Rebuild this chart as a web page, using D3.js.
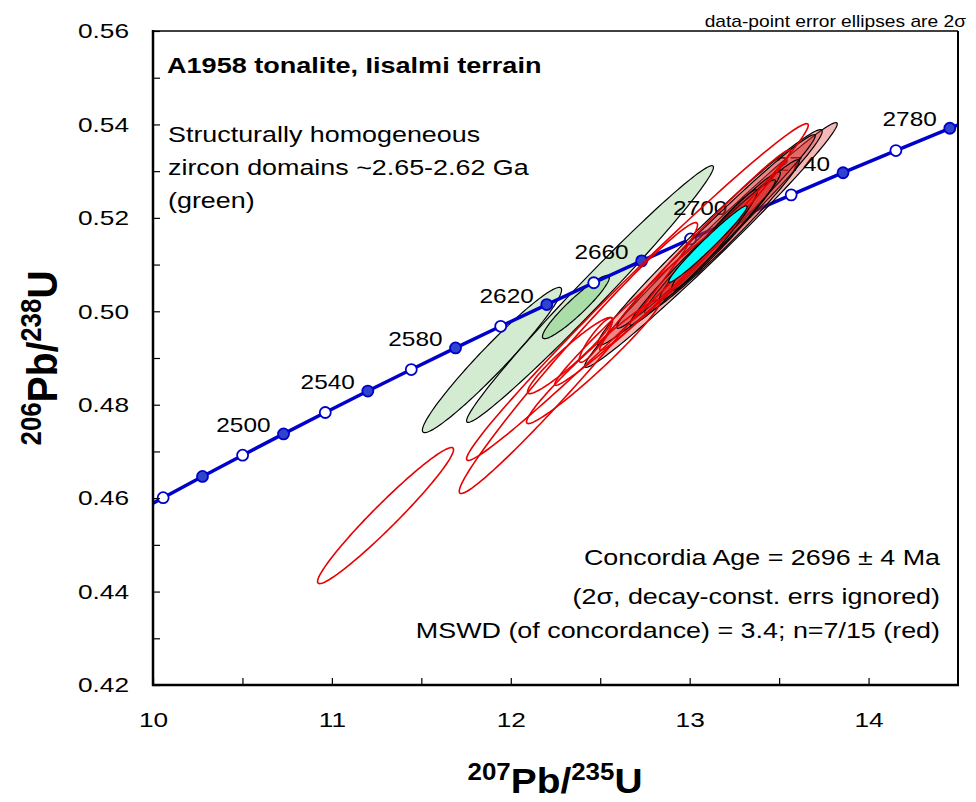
<!DOCTYPE html>
<html><head><meta charset="utf-8">
<script src="https://cdn.jsdelivr.net/npm/d3@7"></script>
<style>body{margin:0;background:#fff}svg{display:block}text{font-family:"Liberation Sans",Arial,sans-serif;fill:#000}</style>
</head><body>
<script>
// ---- Data ----
// Concordia curve points (every 20 Ma)
const concAges = [2420,2440,2460,2480,2500,2520,2540,2560,2580,2600,2620,2640,2660,2680,2700,2720,2740,2760,2780,2800];
const concX = [9.8410,10.0567,10.2766,10.5009,10.7297,10.9630,11.2010,11.4437,11.6913,11.9437,12.2012,12.4638,12.7316,13.0048,13.2834,13.5675,13.8573,14.1528,14.4542,14.7617];
const concY = [0.45557,0.46010,0.46464,0.46919,0.47375,0.47833,0.48293,0.48753,0.49216,0.49679,0.50144,0.50611,0.51079,0.51548,0.52019,0.52492,0.52966,0.53441,0.53918,0.54396];
const concFilledAges = [2460,2500,2540,2580,2620,2660,2700,2740,2780];
const concLabelAges = [2500,2540,2580,2620,2660,2700,2740,2780];

// Green ellipses (207/235, 2s err, 206/238, 2s err, rho)
const greenX    = [11.895, 12.443, 12.364];
const greenXErr = [0.389, 0.690, 0.187];
const greenY    = [0.48957, 0.50369, 0.50091];
const greenYErr = [0.01554, 0.02748, 0.00677];
const greenRho  = [0.966, 0.9875, 0.934];

// Red concordant (filled) ellipses
const redX    = [13.119, 13.113, 13.147, 13.181, 13.169, 13.072, 13.139];
const redXErr = [0.706, 0.628, 0.555, 0.432, 0.338, 0.407, 0.240];
const redY    = [0.51419, 0.51579, 0.51708, 0.51601, 0.51611, 0.51258, 0.51526];
const redYErr = [0.02620, 0.02310, 0.02073, 0.01644, 0.01377, 0.01558, 0.01076];
const redRho  = [0.989, 0.984, 0.988, 0.983, 0.977, 0.9847, 0.970];

// Red excluded (outline) ellipses
const exX    = [11.300, 12.708, 12.378, 12.462, 12.331, 12.476, 12.764, 13.030];
const exXErr = [0.380, 0.955, 0.666, 0.374, 0.237, 0.0935, 0.518, 0.533];
const exY    = [0.45627, 0.50412, 0.48999, 0.48924, 0.49053, 0.49385, 0.50241, 0.51311];
const exYErr = [0.01456, 0.03605, 0.02899, 0.01328, 0.00816, 0.00477, 0.01826, 0.02146];
const exRho  = [0.9689, 0.9903, 0.9836, 0.972, 0.950, 0.899, 0.988, 0.9895];

// Concordia-age ellipse
const ageX = [13.102], ageXErr = [0.219], ageY = [0.5144], ageYErr = [0.00818], ageRho = [0.979];

// Axes ticks
const xMajor = [10,11,12,13,14];
const xMinor = [10.5,11.5,12.5,13.5];
const yMajor = [0.42,0.44,0.46,0.48,0.50,0.52,0.54,0.56];
const yMinor = [0.43,0.45,0.47,0.49,0.51,0.53,0.55];

const titleText = "A1958 tonalite, Iisalmi terrain";
const noteLines = ["Structurally homogeneous","zircon domains ~2.65-2.62 Ga","(green)"];
const resultLines = ["Concordia Age = 2696 \u00b1 4 Ma","(2\u03c3, decay-const. errs ignored)","MSWD (of concordance) = 3.4; n=7/15 (red)"];
const topNote = "data-point error ellipses are 2\u03c3";

// ---- Layout ----
const W = 976, H = 802;
const L = 153, R = 958, T = 31, B = 685;
const SX = 1.25;

const x = d3.scaleLinear().domain([10,14.5]).range([L,R]);
const y = d3.scaleLinear().domain([0.42,0.56]).range([B,T]);

const svg = d3.select("body").append("svg").attr("width",W).attr("height",H);
svg.append("defs").append("clipPath").attr("id","plotclip")
  .append("rect").attr("x",L).attr("y",T).attr("width",R-L).attr("height",B-T);

function stext(parent, px, py, str, size, anchor, weight, sx){
  const g = parent.append("g").attr("transform",`translate(${px},${py}) scale(${sx||SX},1)`);
  return g.append("text").attr("text-anchor",anchor||"start")
    .style("font-size",size+"px").style("font-weight",weight||"normal").text(str);
}

function ellipsePts(cx, ex, cy, ey, rho){
  const n = 160, pts = [];
  const k = Math.sqrt(1 - rho*rho);
  for(let i=0;i<n;i++){
    const t = 2*Math.PI*i/n;
    pts.push([x(cx + ex*Math.cos(t)), y(cy + ey*(rho*Math.cos(t) + k*Math.sin(t)))]);
  }
  return pts;
}
const closedLine = d3.line().curve(d3.curveLinearClosed);

const plot = svg.append("g").attr("clip-path","url(#plotclip)");

// green ellipses
const greenFill = ["#d3ecd1","#d3ecd1","#aadda7"];
greenX.forEach((v,i)=>{
  plot.append("path").attr("d",closedLine(ellipsePts(v,greenXErr[i],greenY[i],greenYErr[i],greenRho[i])))
    .attr("fill",greenFill[i]).attr("stroke","#000").attr("stroke-width",1.2);
});

// concordia
const conc = concAges.map((a,i)=>({age:a,x:concX[i],y:concY[i]}));
plot.append("path").datum(conc)
  .attr("d",d3.line().x(d=>x(d.x)).y(d=>y(d.y)))
  .attr("fill","none").attr("stroke","#0000cc").attr("stroke-width",3.5);
plot.selectAll("circle.cm").data(conc).enter().append("circle")
  .attr("cx",d=>x(d.x)).attr("cy",d=>y(d.y)).attr("r",5.5)
  .attr("fill",d=>concFilledAges.includes(d.age)?"#2f44cc":"#ffffff")
  .attr("stroke","#0000cc").attr("stroke-width",1.8);
// labels
conc.filter(d=>concLabelAges.includes(d.age)).forEach(d=>{
  stext(plot, x(d.x)-13, y(d.y)-2, String(d.age), 20, "end", "normal", 1.22);
});

// red filled ellipses
redX.forEach((v,i)=>{
  plot.append("path").attr("d",closedLine(ellipsePts(v,redXErr[i],redY[i],redYErr[i],redRho[i])))
    .attr("fill","#dc2828").attr("fill-opacity",0.33).attr("stroke","#000").attr("stroke-width",1.2);
});
// red excluded ellipses
exX.forEach((v,i)=>{
  plot.append("path").attr("d",closedLine(ellipsePts(v,exXErr[i],exY[i],exYErr[i],exRho[i])))
    .attr("fill","none").attr("stroke","#e60000").attr("stroke-width",1.6);
});
// concordia age ellipse
ageX.forEach((v,i)=>{
  plot.append("path").attr("d",closedLine(ellipsePts(v,ageXErr[i],ageY[i],ageYErr[i],ageRho[i])))
    .attr("fill","#00ffff").attr("stroke","#000").attr("stroke-width",1.2);
});

// axes
const yAx = svg.append("g").attr("transform",`translate(${L},0)`)
  .call(d3.axisLeft(y).tickValues(yMajor).tickSize(-7).tickPadding(0).tickFormat(d3.format(".2f")));
yAx.select(".domain").remove();
yAx.selectAll("line").attr("stroke","#000").attr("stroke-width",1.2);
yAx.selectAll("text").attr("x",0).attr("transform",`translate(-24,0) scale(${SX},1)`)
  .style("font-size","21px");
const yAxm = svg.append("g").attr("transform",`translate(${L},0)`)
  .call(d3.axisLeft(y).tickValues(yMinor).tickSize(-7).tickFormat(""));
yAxm.select(".domain").remove();
yAxm.selectAll("line").attr("stroke","#000").attr("stroke-width",1.2);

const xAx = svg.append("g").attr("transform",`translate(0,${B})`)
  .call(d3.axisBottom(x).tickValues(xMajor).tickSize(-7).tickPadding(0).tickFormat(d3.format("d")));
xAx.select(".domain").remove();
xAx.selectAll("line").attr("stroke","#000").attr("stroke-width",1.2);
xAx.selectAll("text").attr("y",0).attr("transform",`translate(0,27) scale(${SX},1)`)
  .style("font-size","21px");
const xAxm = svg.append("g").attr("transform",`translate(0,${B})`)
  .call(d3.axisBottom(x).tickValues(xMinor).tickSize(-7).tickFormat(""));
xAxm.select(".domain").remove();
xAxm.selectAll("line").attr("stroke","#000").attr("stroke-width",1.2);

// frame
svg.append("line").attr("x1",L).attr("x2",R).attr("y1",T).attr("y2",T).attr("stroke","#000").attr("stroke-width",1.5);
svg.append("line").attr("x1",R).attr("x2",R).attr("y1",T).attr("y2",B).attr("stroke","#000").attr("stroke-width",2);
svg.append("line").attr("x1",L).attr("x2",L).attr("y1",T-1).attr("y2",B+1).attr("stroke","#000").attr("stroke-width",2.5);
svg.append("line").attr("x1",L-1).attr("x2",R+1).attr("y1",B).attr("y2",B).attr("stroke","#000").attr("stroke-width",2.5);

// texts
stext(svg, 966, 27, topNote, 16, "end", "normal", 1.2);
stext(svg, 167, 73, titleText, 22, "start", "bold", 1.23);
const noteBase = [141.5, 175, 208];
noteLines.forEach((s,i)=>stext(svg, 168, noteBase[i], s, 21.5, "start"));
const resBase = [565, 604, 638];
resultLines.forEach((s,i)=>stext(svg, 940, resBase[i], s, 21.5, "end"));

// axis titles
function isoTitle(t, sup1, main1, sup2, main2){
  t.append("tspan").text(sup1).style("font-size","24px").attr("dy",-13);
  t.append("tspan").text(main1).style("font-size","36px").attr("dy",13);
  t.append("tspan").text(sup2).style("font-size","24px").attr("dy",-13);
  t.append("tspan").text(main2).style("font-size","36px").attr("dy",13);
}
const xt = svg.append("g").attr("transform",`translate(555,793) scale(1.08,1)`)
  .append("text").attr("text-anchor","middle").style("font-weight","bold");
isoTitle(xt,"207","Pb/","235","U");
const yt = svg.append("g").attr("transform",`translate(57,358) rotate(-90) scale(1.08,1.2)`)
  .append("text").attr("text-anchor","middle").style("font-weight","bold");
isoTitle(yt,"206","Pb/","238","U");
</script>
</body></html>
